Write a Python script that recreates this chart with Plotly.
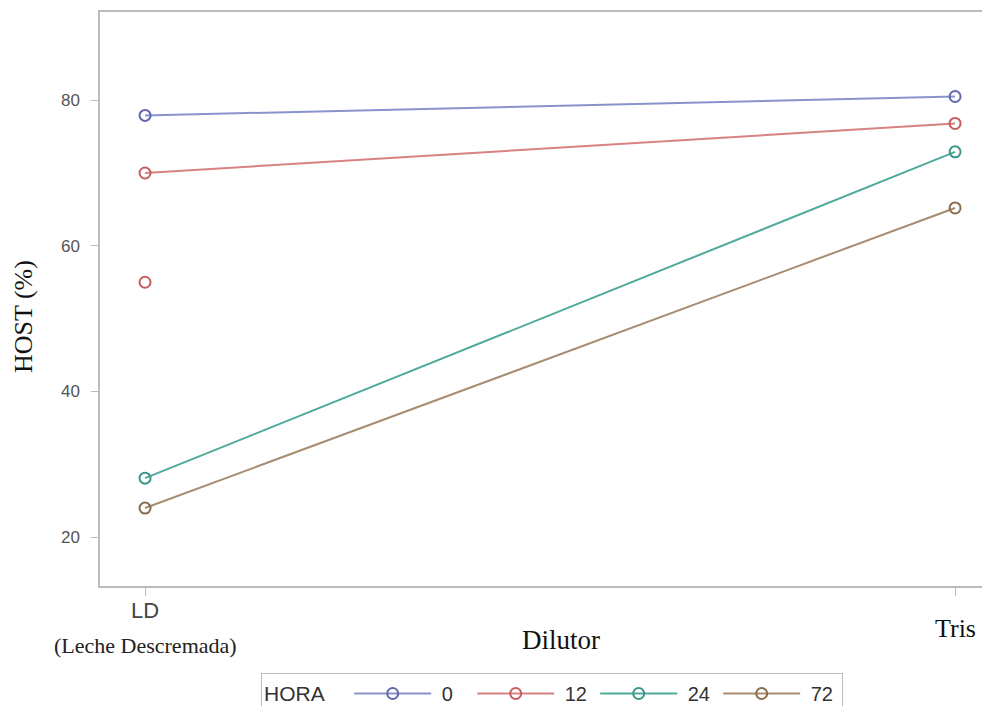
import plotly.graph_objects as go

categories = ["LD", "Tris"]
hora_labels = ["0", "12", "24", "72"]
host_0 = [77.9, 80.5]
host_12 = [70.0, 76.8]
host_24 = [28.1, 72.9]
host_72 = [24.0, 65.2]
extra_12_x = ["LD"]
extra_12_y = [55.0]
y_ticks = [20, 40, 60, 80]
line_colors = ["#8A92CC", "#D88282", "#4FAA9C", "#A88C70"]
marker_colors = ["#6069AC", "#C45E5E", "#3A988A", "#8A6C4E"]

NB = "\u00a0"

fig = go.Figure()
for name, vals, lc, mc in zip(hora_labels, [host_0, host_12, host_24, host_72], line_colors, marker_colors):
    fig.add_trace(go.Scatter(
        x=categories, y=vals, name=NB + name, mode="lines+markers",
        line=dict(color=lc, width=2),
        marker=dict(symbol="circle-open", size=11, color=mc, line=dict(width=2)),
        legendgroup=name,
    ))
fig.add_trace(go.Scatter(
    x=extra_12_x, y=extra_12_y, name="12", mode="markers", showlegend=False,
    marker=dict(symbol="circle-open", size=11, color=marker_colors[1], line=dict(width=2)),
    legendgroup="12",
))

# page body has an 8px margin; figure coordinates are offset accordingly
fig.update_layout(
    width=990, height=706,
    margin=dict(l=92, r=0, t=4, b=128, autoexpand=False),
    plot_bgcolor="white", paper_bgcolor="white",
    showlegend=True,
    legend=dict(
        orientation="h", xref="container", yref="container",
        x=253 / 990, xanchor="left", y=1 - 665 / 706, yanchor="top",
        title=dict(text="HORA" + NB * 3, font=dict(family="Liberation Sans, Arial", size=21, color="#333")),
        font=dict(family="Liberation Sans, Arial", size=20, color="#333"),
        bordercolor="#BBBBBB", borderwidth=1, itemwidth=77, entrywidth=31,
    ),
    xaxis=dict(
        type="category", range=[-0.0556, 1.053],
        showline=True, linecolor="#BBBBBB", linewidth=1.5, mirror=True,
        ticks="outside", ticklen=8, tickcolor="#BBBBBB",
        showticklabels=False, showgrid=False, zeroline=False, automargin=False,
    ),
    yaxis=dict(
        range=[13.3, 92.1], tickvals=y_ticks,
        showline=True, linecolor="#BBBBBB", linewidth=1.5, mirror=False,
        ticks="outside", ticklen=7, tickcolor="#BBBBBB", ticklabelstandoff=8,
        tickfont=dict(family="Liberation Sans, Arial", size=17, color="#555"),
        showgrid=False, zeroline=False, automargin=False,
    ),
)

fig.add_annotation(x=0, xref="paper", xshift=-77, y=0.4686, yref="paper", text="HOST (%)",
                   textangle=-90, showarrow=False, xanchor="center", yanchor="middle",
                   font=dict(family="Liberation Serif, Times New Roman", size=26, color="#111"))
fig.add_annotation(x=categories[0], y=0, yref="paper", yshift=-24, text="LD", showarrow=False,
                   font=dict(family="Liberation Sans, Arial", size=22, color="#444"), yanchor="middle")
fig.add_annotation(x=categories[0], y=0, yref="paper", yshift=-59, text="(Leche Descremada)", showarrow=False,
                   font=dict(family="Liberation Serif, Times New Roman", size=22, color="#222"), yanchor="middle")
fig.add_annotation(x=categories[1], y=0, yref="paper", yshift=-42, text="Tris", showarrow=False,
                   font=dict(family="Liberation Serif, Times New Roman", size=26, color="#111"), yanchor="middle")
fig.add_annotation(x=0.5, xref="paper", y=0, yref="paper", yshift=-54, xshift=12, text="Dilutor", showarrow=False,
                   font=dict(family="Liberation Serif, Times New Roman", size=27, color="#111"), yanchor="middle")

fig.write_html("out.html")
